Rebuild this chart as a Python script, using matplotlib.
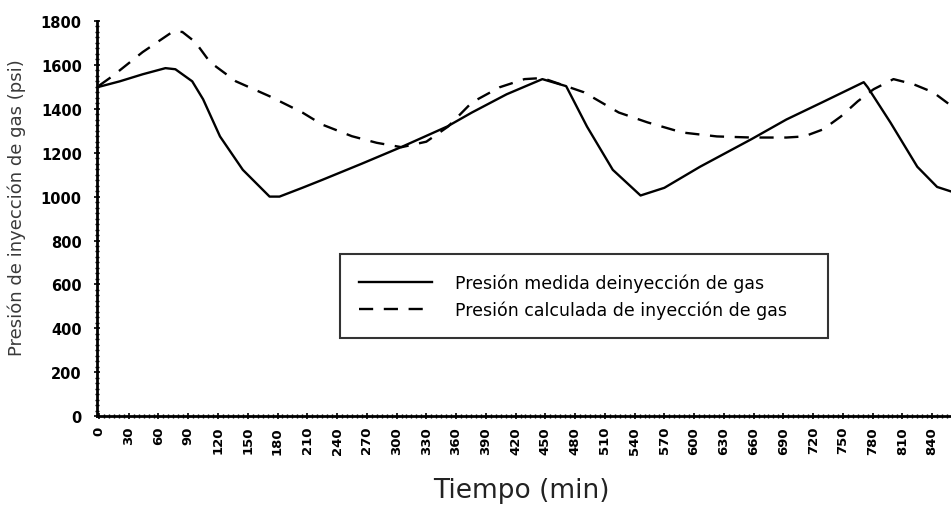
import numpy as np
import matplotlib
matplotlib.use('Agg')
from matplotlib import pyplot as plt
from matplotlib.ticker import MultipleLocator

# tiempo (min) y presion (psi)
t_medida = [0, 21, 44, 67, 77, 94, 105, 122, 145, 172, 182, 205, 225, 265, 306,
            351, 376, 411, 447, 471, 492, 518, 546, 570, 606, 658, 693, 729,
            771, 775, 798, 825, 845, 860]
p_medida = [1500, 1525, 1557, 1585, 1580, 1525, 1443, 1274, 1122, 1000, 1000,
            1040, 1076, 1150, 1228, 1319, 1383, 1466, 1535, 1503, 1319, 1122,
            1005, 1040, 1136, 1262, 1351, 1429, 1521, 1498, 1337, 1136, 1044,
            1022]

t_calc = [0, 14, 44, 74, 84, 97, 112, 138, 172, 205, 225, 255, 280, 305, 330,
          352, 376, 404, 429, 447, 489, 524, 553, 588, 623, 658, 693, 711, 730,
          748, 765, 781, 801, 821, 841, 860]
p_calc = [1505, 1550, 1658, 1750, 1750, 1704, 1612, 1525, 1457, 1383, 1328,
          1275, 1245, 1225, 1250, 1319, 1429, 1498, 1535, 1540, 1475, 1383,
          1338, 1292, 1274, 1269, 1269, 1274, 1306, 1365, 1434, 1489, 1535,
          1512, 1475, 1411]

xticks = np.arange(0, 841, 30)
yticks = np.arange(0, 1801, 200)


def main():
    fig = plt.figure(figsize=(9.51, 5.10), dpi=100)
    ax = fig.add_axes([0.102, 0.182, 0.898, 0.775])

    ax.plot(t_medida, p_medida, color='black', lw=1.7,
            label='Presión medida deinyección de gas')
    ax.plot(t_calc, p_calc, color='black', lw=1.7, dashes=(6, 4.5),
            label='Presión calculada de inyección de gas')

    ax.set_xlim(-2, 859)
    ax.set_ylim(0, 1800)
    ax.set_xticks(xticks)
    ax.set_yticks(yticks)
    ax.xaxis.set_minor_locator(MultipleLocator(5))
    ax.yaxis.set_minor_locator(MultipleLocator(25))
    ax.tick_params(axis='x', which='major', labelsize=9.5, rotation=90,
                   direction='inout', length=4, width=1.2, pad=5)
    ax.tick_params(axis='y', which='major', labelsize=10.5,
                   direction='inout', length=4, width=1.2, pad=9)
    ax.tick_params(which='minor', direction='inout', length=3, width=1)
    for lab in ax.get_xticklabels() + ax.get_yticklabels():
        lab.set_fontweight('bold')

    for s in ['top', 'right']:
        ax.spines[s].set_visible(False)
    for s in ['left', 'bottom']:
        ax.spines[s].set_linewidth(2)

    ax.set_ylabel('Presión de inyección de gas (psi)', fontsize=13,
                  color='#3a3a3a')
    ax.yaxis.set_label_coords(-0.083, 0.53)
    ax.set_xlabel('Tiempo (min)', fontsize=19, color='#222222')
    ax.xaxis.set_label_coords(0.497, -0.155)

    leg = fig.legend(loc='center left', mode='expand',
                     bbox_to_anchor=(340 / 951, 1 - 342 / 510, 488 / 951, 90 / 510),
                     fontsize=12.5, frameon=True, fancybox=False,
                     handlelength=4.2, handletextpad=1.3, labelspacing=0.5,
                     borderpad=1.1, borderaxespad=0)
    leg.get_frame().set_edgecolor('black')
    leg.get_frame().set_linewidth(1.5)

    fig.savefig('out.png', dpi=100)


if __name__ == '__main__':
    main()
